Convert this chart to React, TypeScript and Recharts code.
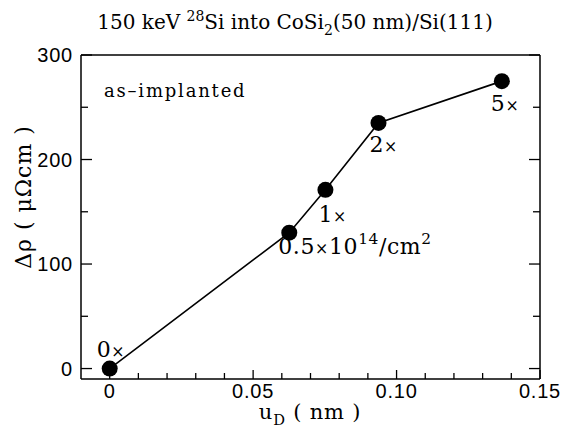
import { LineChart, Line, XAxis, YAxis, LabelList } from "recharts";

// dose steps, displacement amplitude u_D (nm), resistivity increase (µΩcm)
const doseLabels = ["0×", "0.5×10^{14}/cm^{2}", "1×", "2×", "5×"];
const uD = [0, 0.0626, 0.0752, 0.0937, 0.1367];
const deltaRho = [0, 130, 171, 235, 275];

const xTicks = [0, 0.01, 0.02, 0.03, 0.04, 0.05, 0.06, 0.07, 0.08, 0.09, 0.1, 0.11, 0.12, 0.13, 0.14, 0.15];
const xMajor = [0, 0.05, 0.1, 0.15];
const xMajorLabels = ["0", "0.05", "0.10", "0.15"];
const yTicks = [0, 50, 100, 150, 200, 250, 300];
const yMajor = [0, 100, 200, 300];
const yMajorLabels = ["0", "100", "200", "300"];

const data = uD.map((u, i) => ({ u, rho: deltaRho[i], label: doseLabels[i] }));

const SERIF = "'DejaVu Serif', serif";
const SANS = "'Liberation Sans', Arial, sans-serif";

// "^{..}" -> superscript, "_{..}" -> subscript, "×" drawn a bit smaller
function rich(s: string, size: number) {
  const parts = s.split(/(\^\{[^}]*\}|_\{[^}]*\}|×)/).filter(Boolean);
  let shift = 0;
  return parts.map((p, i) => {
    let target = 0;
    let txt = p;
    let fs = size;
    if (p.startsWith("^{")) {
      target = -0.42 * size;
      txt = p.slice(2, -1);
      fs = size * 0.7;
    } else if (p.startsWith("_{")) {
      target = 0.28 * size;
      txt = p.slice(2, -1);
      fs = size * 0.7;
    } else if (p === "×") {
      fs = size * 0.72;
    }
    const dy = target - shift;
    shift = target;
    return (
      <tspan key={i} dy={dy} fontSize={fs}>
        {txt}
      </tspan>
    );
  });
}

const near = (a: number, b: number) => Math.abs(a - b) < 1e-9;

function Tick(props: any) {
  const { x, y, payload, side } = props;
  const v = payload.value;
  if (side === "bottom") {
    const mi = xMajor.findIndex((m) => near(m, v));
    const len = mi >= 0 ? 9 : 6;
    return (
      <g>
        <line x1={x} x2={x} y1={y} y2={y - len} stroke="#000" strokeWidth={1.3} />
        {mi >= 0 && (
          <text x={x} y={y + 19} textAnchor="middle" fontFamily={SANS} fontSize={20} letterSpacing={0.8} fill="#000">
            {xMajorLabels[mi]}
          </text>
        )}
      </g>
    );
  }
  const mi = yMajor.findIndex((m) => near(m, v));
  const len = mi >= 0 ? 11 : 7;
  const dir = side === "left" ? 1 : -1;
  return (
    <g>
      <line x1={x} x2={x + dir * len} y1={y} y2={y} stroke="#000" strokeWidth={1.3} />
      {side === "left" && mi >= 0 && (
        <text x={x - 8} y={y + 7} textAnchor="end" fontFamily={SANS} fontSize={20} letterSpacing={0.8} fill="#000">
          {yMajorLabels[mi]}
        </text>
      )}
    </g>
  );
}

const labelOffsets = [
  { dx: -13, dy: -12 },
  { dx: -11, dy: 21 },
  { dx: -7, dy: 32 },
  { dx: -9, dy: 29 },
  { dx: -11, dy: 30 },
];

function DoseLabel(props: any) {
  const { x, y, index, value } = props;
  const o = labelOffsets[index] || { dx: 0, dy: 0 };
  return (
    <text x={x + o.dx} y={y + o.dy} fontFamily={SERIF} fontSize={22} letterSpacing={0.6} fill="#000">
      {rich(String(value), 22)}
    </text>
  );
}

export default function App() {
  const W = 571;
  const H = 430;
  const axisLine = { stroke: "#000", strokeWidth: 1.5 };
  return (
    <div style={{ position: "absolute", left: 0, top: 0, width: W, height: H, background: "#fff" }}>
      <LineChart width={W} height={H} data={data} margin={{ top: 54, right: 30, bottom: 50, left: 80 }}>
        <XAxis
          dataKey="u"
          type="number"
          domain={[-0.01, 0.15]}
          ticks={xTicks}
          interval={0}
          allowDataOverflow
          height={1}
          tickSize={0}
          tickMargin={0}
          tickLine={false}
          axisLine={axisLine}
          tick={(p: any) => <Tick {...p} side="bottom" />}
        />
        <XAxis
          xAxisId="top"
          orientation="top"
          dataKey="u"
          type="number"
          domain={[-0.01, 0.15]}
          allowDataOverflow
          height={1}
          tickLine={false}
          tick={false}
          axisLine={axisLine}
        />
        <YAxis
          type="number"
          domain={[-10, 300]}
          ticks={yTicks}
          interval={0}
          allowDataOverflow
          width={1}
          tickSize={0}
          tickMargin={0}
          tickLine={false}
          axisLine={axisLine}
          tick={(p: any) => <Tick {...p} side="left" />}
        />
        <YAxis
          yAxisId="right"
          orientation="right"
          type="number"
          domain={[-10, 300]}
          ticks={yTicks}
          interval={0}
          allowDataOverflow
          width={1}
          tickSize={0}
          tickMargin={0}
          tickLine={false}
          axisLine={axisLine}
          tick={(p: any) => <Tick {...p} side="right" />}
        />
        {/* invisible twin so the top/right frame axes get their scales */}
        <Line
          xAxisId="top"
          yAxisId="right"
          type="linear"
          dataKey="rho"
          stroke="none"
          dot={false}
          activeDot={false}
          isAnimationActive={false}
        />
        <Line
          type="linear"
          dataKey="rho"
          stroke="#000"
          strokeWidth={1.6}
          dot={{ r: 8, fill: "#000", stroke: "#000", strokeWidth: 0 }}
          activeDot={false}
          isAnimationActive={false}
        >
          <LabelList dataKey="label" content={(p: any) => <DoseLabel {...p} />} />
        </Line>
      </LineChart>
      <svg width={W} height={H} style={{ position: "absolute", left: 0, top: 0, pointerEvents: "none" }}>
        <text x={295} y={29} textAnchor="middle" fontFamily={SERIF} fontSize={20} fill="#000">
          {rich("150 keV ^{28}Si into CoSi_{2}(50 nm)/Si(111)", 20)}
        </text>
        <text x={104} y={97} fontFamily={SERIF} fontSize={18} letterSpacing={1.8} fill="#000">
          as–implanted
        </text>
        <text
          x={0}
          y={0}
          transform="translate(31 197) rotate(-90)"
          textAnchor="middle"
          fontFamily={SERIF}
          fontSize={22}
          letterSpacing={1}
          fill="#000"
        >
          Δρ ( μΩcm )
        </text>
        <text x={310} y={419} textAnchor="middle" fontFamily={SERIF} fontSize={21} letterSpacing={0.8} fill="#000">
          {rich("u_{D} ( nm )", 21)}
        </text>
      </svg>
    </div>
  );
}
